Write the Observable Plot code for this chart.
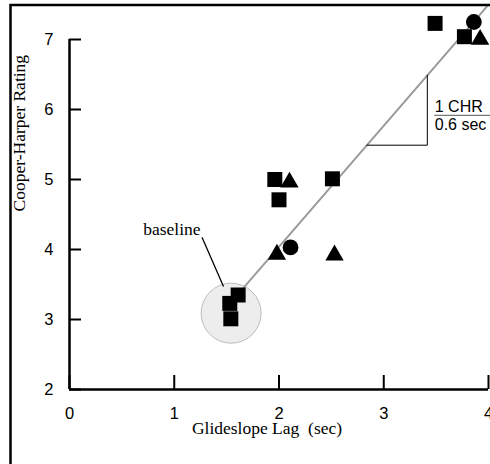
<!DOCTYPE html>
<html><head><meta charset="utf-8">
<script src="https://cdn.jsdelivr.net/npm/d3@7"></script>
<script src="https://cdn.jsdelivr.net/npm/@observablehq/plot@0.6"></script>
<style>
html,body{margin:0;padding:0;background:#fff;overflow:hidden;}
#chart{position:relative;width:490px;height:464px;overflow:hidden;background:#fff;}
#chart svg{overflow:hidden;display:block;}
svg text{white-space:pre;}
</style></head><body><div id="chart"></div>
<script>
// tick values
const xTicks = [0, 1, 2, 3, 4];
const yTicks = [2, 3, 4, 5, 6, 7];
// series: squares, triangles, circles
const squareX = [1.53, 1.61, 1.54, 1.96, 2.00, 2.51, 3.49, 3.77];
const squareY = [3.23, 3.35, 3.01, 5.00, 4.71, 5.01, 7.23, 7.04];
const triangleX = [2.10, 1.98, 2.53, 3.92];
const triangleY = [4.96, 3.93, 3.92, 7.00];
const circleX = [2.11, 3.86];
const circleY = [4.03, 7.25];
// fitted line endpoints
const fitX = [1.665, 3.99];
const fitY = [3.46, 7.48];
// slope annotation triangle
const slopeX = [2.838, 3.416, 3.416];
const slopeY = [5.49, 5.49, 6.49];
const slopeText = ["1 CHR", "0.6 sec"];
const slopeTextX = [3.487, 3.487];
const slopeTextY = [5.96, 5.71];
const slopeBarY = 5.917;
// baseline annotation
const baselineCenter = {x: 1.543, y: 3.09};
const baselineLabel = "baseline";
const baselineLabelPos = {x: 0.978, y: 4.207};
const leaderX = [1.267, 1.468];
const leaderY = [4.168, 3.477];
// axis titles
const xTitle = "Glideslope Lag  (sec)";
const yTitle = "Cooper-Harper Rating";

const toRows = (xs, ys) => xs.map((x, i) => ({x, y: ys[i]}));
const squares = toRows(squareX, squareY);
const triangles = toRows(triangleX, triangleY);
const circles = toRows(circleX, circleY);
const fit = toRows(fitX, fitY);
const slope = toRows(slopeX, slopeY);
const leader = toRows(leaderX, leaderY);
const slopeLabels = slopeText.map((t, i) => ({t, x: slopeTextX[i], y: slopeTextY[i]}));

const serif = "Liberation Serif, Times New Roman, serif";
const sans = "Liberation Sans, Arial, Helvetica, sans-serif";
const intFmt = d3.format("d");

const chart = Plot.plot({
  width: 490, height: 464,
  marginLeft: 69, marginRight: 2, marginTop: 39, marginBottom: 75,
  style: {fontFamily: sans, fontSize: "16.5px", color: "#000", background: "#fff"},
  x: {domain: [0, 4], label: null},
  y: {domain: [2, 7], label: null},
  marks: [
    Plot.dot([baselineCenter], {x: "x", y: "y", r: 30, fill: "#ededed", stroke: "#bdbdbd", strokeWidth: 1}),
    Plot.line(leader, {x: "x", y: "y", stroke: "#000", strokeWidth: 1.3}),
    Plot.text([baselineLabelPos], {x: "x", y: "y", text: () => baselineLabel, fontFamily: serif, fontSize: 17.5, lineAnchor: "bottom", fill: "#000"}),
    Plot.line(fit, {x: "x", y: "y", stroke: "#9a9a9a", strokeWidth: 2}),
    Plot.line(slope, {x: "x", y: "y", stroke: "#000", strokeWidth: 1}),
    Plot.ruleY([slopeBarY], {x1: slopeTextX[0], x2: 4.2, stroke: "#555", strokeWidth: 1}),
    Plot.text(slopeLabels, {x: "x", y: "y", text: "t", textAnchor: "start", lineAnchor: "bottom", fontFamily: sans, fontSize: 16, fill: "#000"}),
    Plot.dot(circles, {x: "x", y: "y", symbol: "circle", r: 7.9, fill: "#000"}),
    Plot.dot(squares, {x: "x", y: "y", symbol: "square", r: 8.46, fill: "#000"}),
    Plot.dot(triangles, {x: "x", y: "y", symbol: "triangle", r: 6.8, fill: "#000"}),
    Plot.ruleX([0], {y1: yTicks[0], y2: yTicks[yTicks.length - 1], stroke: "#000", strokeWidth: 2.5}),
    Plot.ruleY([2], {stroke: "#000", strokeWidth: 2.5}),
    Plot.axisY({ticks: yTicks, tickSize: -12, tickFormat: () => "", label: null, strokeWidth: 2}),
    Plot.axisY({ticks: yTicks, tickSize: 0, tickPadding: 16, tickFormat: intFmt, label: null, fontSize: 16.5}),
    Plot.axisX({ticks: xTicks, tickSize: -14, tickFormat: () => "", label: null, strokeWidth: 2}),
    Plot.axisX({ticks: xTicks, tickSize: 0, tickPadding: 18, tickFormat: intFmt, label: null, fontSize: 16.5}),
    Plot.text([xTitle], {frameAnchor: "bottom", dx: -12, dy: 39, lineAnchor: "middle", fontFamily: serif, fontSize: 17.5, fill: "#000"}),
    Plot.text([yTitle], {frameAnchor: "left", rotate: -90, dx: -50.4, dy: -3, lineAnchor: "middle", fontFamily: serif, fontSize: 17.5, fill: "#000"})
  ]
});

// outer frame (decoration): only left and top edges are visible in the crop
d3.select(chart).append("path")
  .attr("d", "M10.5,800V5H800")
  .attr("fill", "none").attr("stroke", "#000").attr("stroke-width", 2.5);

document.getElementById("chart").appendChild(chart);
</script>
</body></html>
